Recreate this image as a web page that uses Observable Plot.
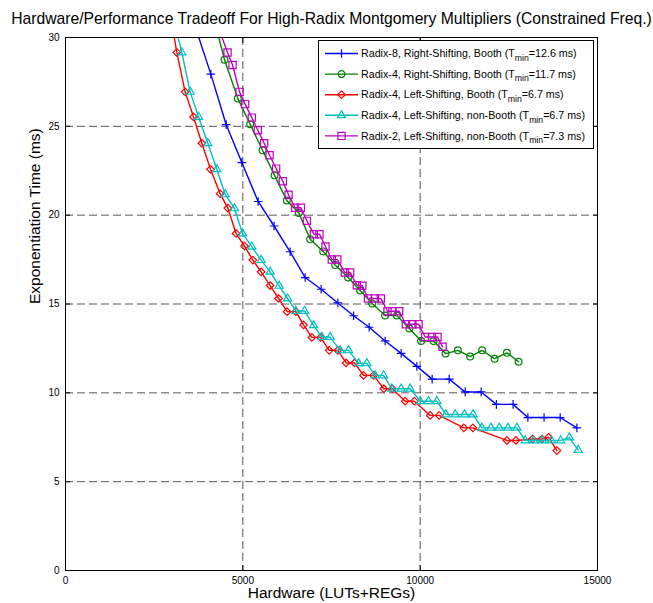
<!DOCTYPE html>
<html><head><meta charset="utf-8">
<script src="https://cdn.jsdelivr.net/npm/d3@7"></script>
<script src="https://cdn.jsdelivr.net/npm/@observablehq/plot@0.6"></script>
<style>body{margin:0;background:#fff;}</style>
</head><body><div id="chart"></div>
<script>
const FONT = "'Liberation Sans', Arial, Helvetica, sans-serif";

// Tick values
const xTicks = [0, 5000, 10000, 15000];
const yTicks = [0, 5, 10, 15, 20, 25, 30];
const xGrid = [5000, 10000];
const yGrid = [5, 10, 15, 20, 25];

// Radix-8, Right-Shifting, Booth
const r8rsX = [3593, 4098, 4529, 4972, 5431, 5880, 6334, 6757, 7208, 7679, 8122, 8562, 9013, 9464, 9907, 10338, 10818, 11269, 11720, 12149, 12620, 13037, 13494, 13948, 14419];
const r8rsY = [31.0, 27.94, 25.10, 22.96, 20.77, 19.39, 17.94, 16.49, 15.83, 15.06, 14.34, 13.69, 12.92, 12.22, 11.49, 10.77, 10.77, 10.05, 10.05, 9.35, 9.35, 8.61, 8.61, 8.61, 8.03];

// Radix-4, Right-Shifting, Booth
const r4rsX = [4191, 4484, 4859, 5206, 5556, 5894, 6241, 6579, 6898, 7265, 7603, 7969, 8308, 8646, 9013, 9343, 9695, 10028, 10378, 10716, 11063, 11410, 11748, 12098, 12445, 12775];
const r4rsY = [31.0, 28.75, 26.56, 25.12, 23.65, 22.24, 20.82, 20.12, 18.64, 17.96, 17.19, 16.49, 15.76, 15.03, 14.35, 14.35, 13.62, 12.92, 12.92, 12.21, 12.39, 12.04, 12.39, 11.92, 12.25, 11.75];

// Radix-4, Left-Shifting, Booth
const r4lsbX = [2980, 3139, 3373, 3610, 3844, 4089, 4360, 4577, 4808, 5048, 5282, 5516, 5770, 6007, 6249, 6495, 6712, 6946, 7191, 7434, 7679, 7913, 8150, 8404, 8686, 8976, 9216, 9577, 9836, 10282, 10536, 11232, 11486, 12445, 12699, 13164, 13432, 13621, 13855];
const r4lsbY = [31.0, 29.16, 26.94, 25.53, 24.05, 22.58, 21.21, 20.40, 18.97, 18.26, 17.47, 16.81, 16.04, 15.31, 14.57, 14.57, 13.82, 13.12, 13.12, 12.39, 12.39, 11.68, 11.68, 10.98, 10.98, 10.23, 10.23, 9.53, 9.53, 8.73, 8.73, 8.03, 8.03, 7.32, 7.32, 7.40, 7.40, 7.50, 6.75];

// Radix-4, Left-Shifting, non-Booth
const r4lsnX = [3046, 3280, 3514, 3751, 4013, 4267, 4501, 4766, 4992, 5254, 5516, 5770, 6024, 6261, 6495, 6740, 6994, 7228, 7462, 7744, 7981, 8263, 8497, 8731, 8968, 9202, 9464, 9718, 10000, 10237, 10471, 10725, 10987, 11252, 11492, 11740, 11994, 12228, 12473, 12727, 12961, 13198, 13441, 13700, 13962, 14207, 14456];
const r4lsnY = [31.0, 29.16, 26.94, 25.53, 24.05, 22.58, 21.17, 20.38, 18.97, 18.22, 17.47, 16.81, 16.02, 15.31, 14.61, 14.61, 13.80, 13.14, 13.14, 12.39, 12.39, 11.66, 11.66, 10.98, 10.98, 10.23, 10.23, 10.23, 9.53, 9.53, 9.53, 8.78, 8.78, 8.78, 8.78, 8.03, 8.03, 8.03, 8.03, 8.03, 7.32, 7.32, 7.32, 7.32, 7.32, 7.48, 6.78];

// Radix-2, Left-Shifting, non-Booth
const r2lsnX = [4227, 4569, 4710, 4907, 5065, 5254, 5423, 5601, 5753, 5939, 6128, 6289, 6475, 6636, 6805, 7002, 7161, 7330, 7510, 7665, 7876, 8026, 8215, 8370, 8529, 8722, 8892, 9079, 9220, 9408, 9597, 9780, 9955, 10141, 10330, 10489, 10632];
const r2lsnY = [31.0, 29.16, 28.45, 26.94, 26.25, 25.49, 24.78, 24.05, 23.37, 22.62, 21.91, 21.15, 20.42, 20.42, 19.68, 18.93, 18.93, 18.24, 17.50, 17.50, 16.77, 16.77, 16.06, 16.03, 15.31, 15.31, 15.31, 14.59, 14.59, 14.59, 13.86, 13.86, 13.86, 13.14, 13.14, 13.14, 12.59];

const seriesNames = [
  "Radix-8, Right-Shifting, Booth",
  "Radix-4, Right-Shifting, Booth",
  "Radix-4, Left-Shifting, Booth",
  "Radix-4, Left-Shifting, non-Booth",
  "Radix-2, Left-Shifting, non-Booth"
];
const tmins = ["12.6", "11.7", "6.7", "6.7", "7.3"];
const colors = ["#0000ff", "#008000", "#ff0000", "#00bfbf", "#bf00bf"];
const symbols = ["plus", "circle", "diamond2", "triangle2", "square2"];
const radii = [2.9, 3.4, 3.4, 3.9, 4.6];
const xs = [r8rsX, r4rsX, r4lsbX, r4lsnX, r2lsnX];
const ys = [r8rsY, r4rsY, r4lsbY, r4lsnY, r2lsnY];

const seriesData = xs.map((xa, k) => xa.map((x, i) => ({x, y: ys[k][i]})));

const W = 653, H = 603;
const mTop = 37, mLeft = 65, mRight = 56, mBottom = 33;

const marks = [
  Plot.gridX(xGrid, {stroke: "#444", strokeOpacity: 1, strokeDasharray: "8,4", strokeWidth: 0.9}),
  Plot.gridY(yGrid, {stroke: "#444", strokeOpacity: 1, strokeDasharray: "8,4", strokeWidth: 0.9}),
];
seriesData.forEach((d, k) => {
  marks.push(Plot.line(d, {x: "x", y: "y", stroke: colors[k], strokeWidth: 1.4, clip: true}));
  marks.push(Plot.dot(d, {x: "x", y: "y", stroke: colors[k], fill: "none", symbol: symbols[k], r: radii[k], strokeWidth: 1.2, clip: true}));
});
marks.push(
  Plot.axisX({ticks: xTicks, tickSize: -5, tickPadding: 11, fontSize: 10, tickFormat: d => String(d), label: null}),
  Plot.axisX({anchor: "top", ticks: xTicks, tickSize: -5, tickFormat: () => "", label: null}),
  Plot.axisY({ticks: yTicks, tickSize: -5, tickPadding: 11, fontSize: 10, tickFormat: d => String(d), label: null}),
  Plot.axisY({anchor: "right", ticks: yTicks, tickSize: -5, tickFormat: () => "", label: null}),
  Plot.frame({stroke: "black", strokeWidth: 1}),
  Plot.text(["Hardware/Performance Tradeoff For High-Radix Montgomery Multipliers (Constrained Freq.)"], {frameAnchor: "top", lineAnchor: "middle", dy: -19, fontSize: 15.7, fill: "black"}),
  Plot.text(["Hardware (LUTs+REGs)"], {frameAnchor: "bottom", lineAnchor: "middle", dy: 23, fontSize: 15.5, fill: "black"}),
  Plot.text(["Exponentiation Time (ms)"], {frameAnchor: "left", lineAnchor: "middle", dx: -30, rotate: -90, fontSize: 15.5, fill: "black"})
);

const plot = Plot.plot({
  width: W, height: H,
  marginTop: mTop, marginLeft: mLeft, marginRight: mRight, marginBottom: mBottom,
  style: {fontFamily: FONT, background: "white", color: "black"},
  x: {domain: [0, 15000], label: null},
  y: {domain: [0, 30], label: null},
  marks
});

// Legend
const svg = d3.select(plot);
const lg = svg.append("g").attr("font-family", FONT).attr("font-size", 10.7).attr("text-anchor", "start");
lg.append("rect").attr("x", 318.5).attr("y", 40.5).attr("width", 275).attr("height", 108)
  .attr("fill", "white").attr("stroke", "black").attr("stroke-width", 1);
const d3sym = {plus: d3.symbolPlus, circle: d3.symbolCircle, diamond2: d3.symbolDiamond2, triangle2: d3.symbolTriangle2, square2: d3.symbolSquare2};
seriesNames.forEach((name, i) => {
  const yy = 53.5 + i * 20.6;
  lg.append("line").attr("x1", 325).attr("x2", 358).attr("y1", yy).attr("y2", yy)
    .attr("stroke", colors[i]).attr("stroke-width", 1.4);
  lg.append("path").attr("transform", `translate(341.5,${yy})`)
    .attr("d", d3.symbol(d3sym[symbols[i]], Math.PI * radii[i] * radii[i])())
    .attr("fill", "none").attr("stroke", colors[i]).attr("stroke-width", 1.2);
  const t = lg.append("text").attr("x", 361).attr("y", yy + 3.7).attr("fill", "black").attr("text-anchor", "start");
  t.append("tspan").text(name + " (T");
  t.append("tspan").attr("font-size", 8.7).attr("dy", 3.5).text("min");
  t.append("tspan").attr("dy", -3.5).text("=" + tmins[i] + " ms)");
});

document.getElementById("chart").appendChild(plot);
</script>
</body></html>
